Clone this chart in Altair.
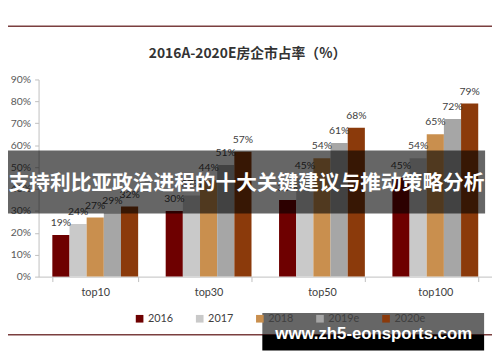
import altair as alt
import pandas as pd

categories = ["top10", "top30", "top50", "top100"]
years = ["2016", "2017", "2018", "2019e", "2020e"]
share_2016 = [19, 30, 35, 45]
share_2017 = [24, 37, 45, 54]
share_2018 = [27, 44, 54, 65]
share_2019e = [29, 51, 61, 72]
share_2020e = [32, 57, 68, 79]
colors = ["#6E0000", "#C9C9C9", "#C98F4E", "#A6A6A6", "#8B3A0B"]
y_ticks = [0, 0.1, 0.2, 0.3, 0.4, 0.5, 0.6, 0.7, 0.8, 0.9]

title_text = "2016A-2020E房企市占率（%）"
banner_text = "支持利比亚政治进程的十大关键建议与推动策略分析"
watermark_text = "www.zh5-eonsports.com"

rows = []
for yr, vals in zip(years, [share_2016, share_2017, share_2018, share_2019e, share_2020e]):
    for c, v in zip(categories, vals):
        rows.append({"cat": c, "year": yr, "share": v / 100})
df = pd.DataFrame(rows)

base = alt.Chart(df).encode(
    x=alt.X(
        "cat:N",
        sort=categories,
        scale=alt.Scale(paddingInner=0.243, paddingOuter=0.1215),
        axis=alt.Axis(
            title=None, labelAngle=0, tickBand="extent", tickSize=5,
            labelPadding=5, labelFont="Lato", labelFontSize=11,
            labelColor="#404040", domainColor="#BFBFBF", tickColor="#BFBFBF",
            zindex=0,
        ),
    ),
    xOffset=alt.XOffset("year:N", sort=years,
                        scale=alt.Scale(paddingInner=0, paddingOuter=0)),
    y=alt.Y(
        "share:Q",
        scale=alt.Scale(domain=[0, 0.9], nice=False),
        axis=alt.Axis(
            title=None, values=y_ticks, format=".0%", grid=False, tickSize=4,
            labelPadding=4, labelFont="Lato", labelFontSize=10.5,
            labelColor="#595959", domainColor="#BFBFBF", tickColor="#BFBFBF",
            zindex=0,
        ),
    ),
)

bars = base.mark_bar().encode(
    color=alt.Color(
        "year:N", sort=years,
        scale=alt.Scale(domain=years, range=colors),
        legend=alt.Legend(
            title=None, orient="none", direction="horizontal",
            legendX=97, legendY=237, symbolType="square", symbolSize=60,
            symbolStrokeWidth=0, labelFont="Lato", labelFontSize=11,
            labelColor="#404040", labelOffset=3, columnPadding=21, zindex=0,
        ),
    )
)

labels = base.mark_text(dy=-12, font="Lato", fontSize=10.5, color="#404040").encode(
    text=alt.Text("share:Q", format=".0%")
)

one = pd.DataFrame({"k": [0]})

top_line = alt.Chart(one).mark_rule(color="#7B3F3F", strokeWidth=1.5).encode(
    x=alt.value(-31), x2=alt.value(460), y=alt.value(-54)
)
bottom_line = alt.Chart(one).mark_rule(color="#7B3F3F", strokeWidth=1.5).encode(
    x=alt.value(-31), x2=alt.value(460), y=alt.value(259)
)

title = alt.Chart(pd.DataFrame({"t": [title_text]})).mark_text(
    font="Noto Sans CJK SC", fontWeight="bold", fontSize=14, color="#333333",
    align="center", baseline="middle"
).encode(text="t:N", x=alt.value(212), y=alt.value(-26))

banner = alt.Chart(one).mark_rect(color="black", opacity=0.6).encode(
    x=alt.value(-31), x2=alt.value(453), y=alt.value(72), y2=alt.value(136)
)
banner_label = alt.Chart(pd.DataFrame({"t": [banner_text]})).mark_text(
    font="Noto Sans CJK SC", fontWeight="bold", fontSize=21, color="white",
    align="center", baseline="middle"
).encode(text="t:N", x=alt.value(211), y=alt.value(106))

wm_top = alt.Chart(one).mark_rect(color="black", opacity=0.6).encode(
    x=alt.value(227), x2=alt.value(452), y=alt.value(237), y2=alt.value(259)
)
wm_bottom = alt.Chart(one).mark_rect(color="black", opacity=1).encode(
    x=alt.value(227), x2=alt.value(452), y=alt.value(259), y2=alt.value(275)
)
wm_label = alt.Chart(pd.DataFrame({"t": [watermark_text]})).mark_text(
    font="Liberation Sans", fontWeight="bold", fontSize=17, color="white",
    align="center", baseline="alphabetic"
).encode(text="t:N", x=alt.value(340), y=alt.value(263))

chart = alt.layer(
    bars, labels, top_line, bottom_line, title, banner, banner_label,
    wm_top, wm_bottom, wm_label
).properties(
    width=460, height=200,
    autosize=alt.AutoSizeParams(type="none"),
    padding={"left": 31, "top": 70, "right": 0, "bottom": 76},
    background="white",
).configure_view(stroke=None)

chart.save("out.html", embed_options={"renderer": "svg", "actions": False})
